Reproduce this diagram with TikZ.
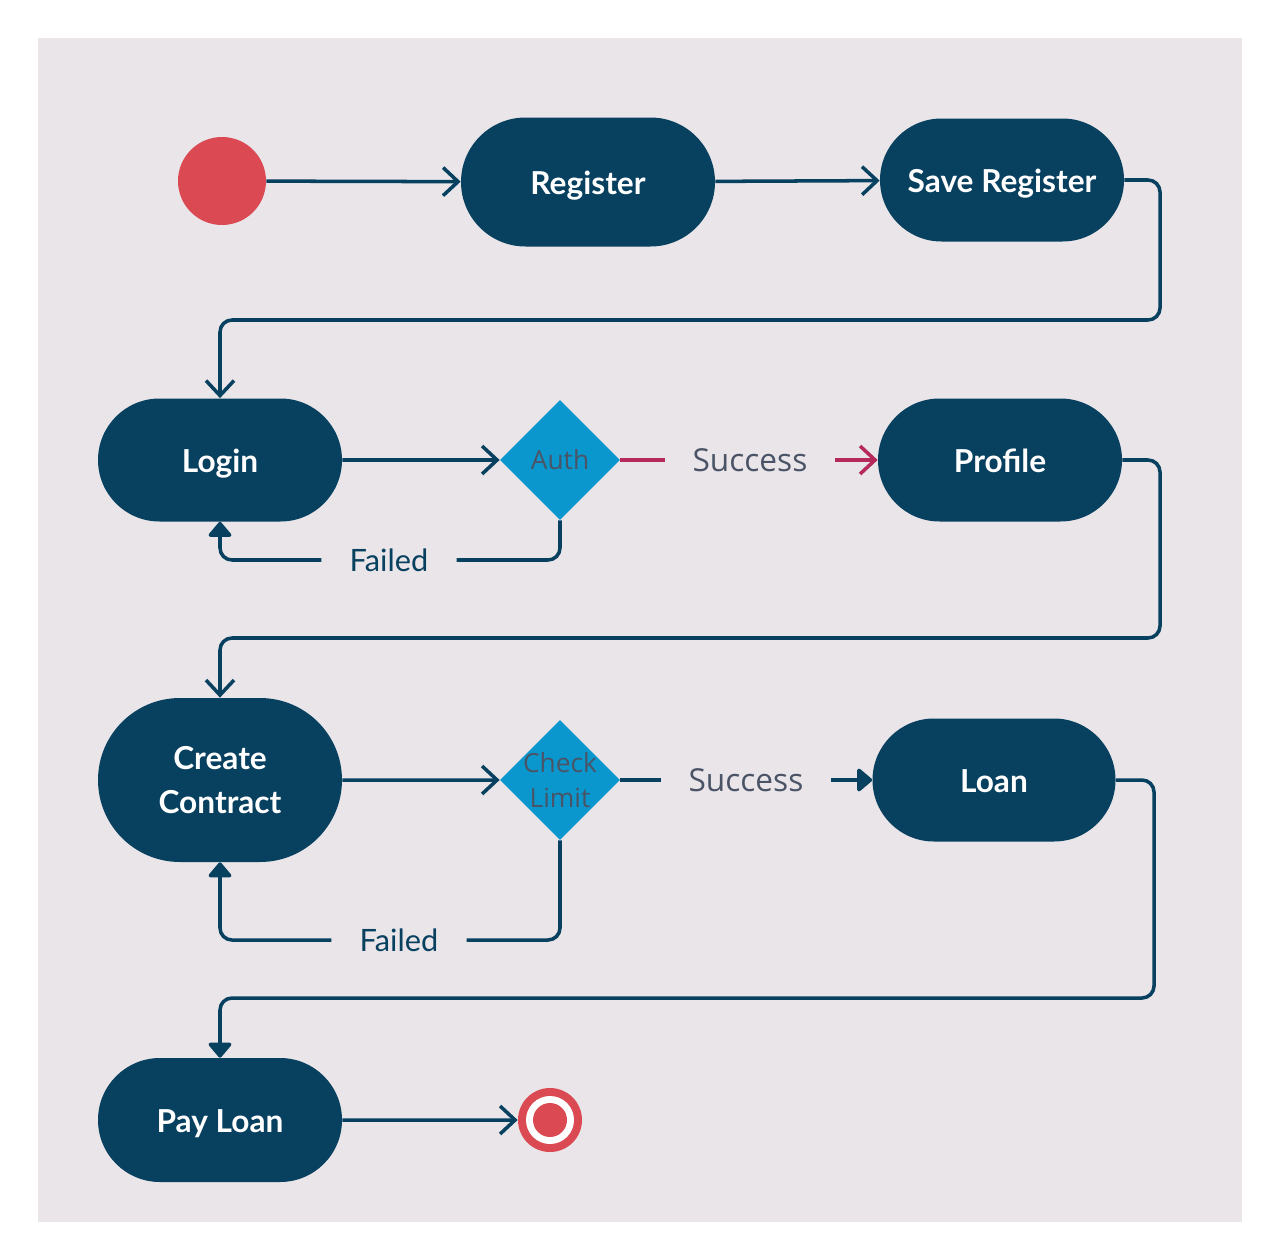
\documentclass[tikz,border=0pt]{standalone}
\usepackage{fontspec}
\setmainfont{Lato}
\newfontfamily\opensans{Open Sans}
\usetikzlibrary{arrows.meta,shapes.misc,shapes.geometric}

\definecolor{canvas}{HTML}{E9E5E9}
\definecolor{navy}{HTML}{08405F}
\definecolor{azure}{HTML}{0A97CE}
\definecolor{stateRed}{HTML}{DB4953}
\definecolor{slate}{HTML}{4A5466}
\definecolor{berry}{HTML}{B52A5A}

\begin{document}
\begin{tikzpicture}[
    activity/.style = {rounded rectangle, fill=navy, text=white, font=\bfseries\fontsize{18}{25}\selectfont, align=center, inner sep=0pt},
    oneline/.style = {text height=14pt, text depth=0pt},
    decision/.style = {diamond, fill=azure, minimum width=2.4cm, minimum height=2.4cm, inner sep=0pt},
    decisiontext/.style = {text=slate, font=\opensans\fontsize{15}{20}\selectfont, align=center, inner sep=0pt},
    guard/.style = {text=slate, font=\opensans\fontsize{18}{22}\selectfont, inner ysep=2pt, inner xsep=0.54cm},
    failtext/.style = {text=navy, font=\fontsize{17.5}{22}\selectfont, inner ysep=2pt, inner xsep=0.56cm},
    flow/.style = {navy, line width=2pt, rounded corners=0.24cm},
    openhead/.style = {-{Straight Barb[length=0.3cm, width=0.56cm, line width=2pt]}},
    solidhead/.style = {-{Triangle[round, length=0.32cm, width=0.52cm]}}
  ]
    % Canvas
    \useasboundingbox (0, 0) rectangle (25.6, -25.2);
    \fill [white] (0, 0) rectangle (25.6, -25.2);
    \fill [canvas] (0.76, -0.76) rectangle (24.84, -24.44);

    % Start and end states
    \node [circle, fill=stateRed, minimum size=1.76cm, inner sep=0pt] (start) at (4.44, -3.62) {};
    \node [circle, fill=stateRed, minimum size=1.28cm, inner sep=0pt] (finish) at (11.0, -22.4) {};
    \fill [white] (finish) circle (0.48);
    \fill [stateRed] (finish) circle (0.34);

    % Activities
    \node [activity, oneline, minimum width=5.08cm, minimum height=2.58cm] (register) at (11.76, -3.64) {Register};
    \node [activity, oneline, minimum width=4.88cm, minimum height=2.46cm] (saveReg) at (20.04, -3.6) {Save Register};
    \node [activity, oneline, minimum width=4.88cm, minimum height=2.46cm] (login) at (4.4, -9.2) {Login};
    \node [activity, oneline, minimum width=4.88cm, minimum height=2.46cm] (profile) at (20.0, -9.2) {Profile};
    \node [activity, minimum width=4.88cm, minimum height=3.28cm] (contract) at (4.4, -15.6) {Create\\Contract};
    \node [activity, oneline, minimum width=4.86cm, minimum height=2.46cm] (loan) at (19.88, -15.6) {Loan};
    \node [activity, oneline, minimum width=4.88cm, minimum height=2.48cm] (payLoan) at (4.4, -22.4) {Pay Loan};

    % Decisions
    \node [decision] (auth) at (11.2, -9.2) {};
    \node [decisiontext] (authText) at (auth) {Auth};
    \node [decision] (limit) at (11.2, -15.6) {};
    \node [decisiontext] (limitText) at (limit) {Check\\Limit};

    % Guards
    \node [guard] (authOk) at (15.0, -9.2) {Success};
    \node [failtext] (authFail) at (7.78, -11.2) {Failed};
    \node [guard] (limitOk) at (14.92, -15.6) {Success};
    \node [failtext] (limitFail) at (7.98, -18.8) {Failed};

    % Bends of the long connectors
    \coordinate (bendA) at (23.2, -6.4);
    \coordinate (bendB) at (23.2, -12.76);
    \coordinate (bendC) at (23.08, -19.96);

    % Registration
    \draw [flow, openhead] (start) -- (register);
    \draw [flow, openhead] (register) -- (saveReg);
    \draw [flow, openhead] (saveReg.east) -| (bendA) -| (login.north);

    % Authentication
    \draw [flow, openhead] (login) -- (auth);
    \draw [flow, berry] (auth.east) -- (authOk.west);
    \draw [flow, berry, openhead] (authOk.east) -- (profile.west);
    \draw [flow] (auth.south) |- (authFail.east);
    \draw [flow, solidhead] (authFail.west) -| (login.south);
    \draw [flow, openhead] (profile.east) -| (bendB) -| (contract.north);

    % Contract and loan
    \draw [flow, openhead] (contract) -- (limit);
    \draw [flow] (limit.east) -- (limitOk.west);
    \draw [flow, solidhead] (limitOk.east) -- (loan.west);
    \draw [flow] (limit.south) |- (limitFail.east);
    \draw [flow, solidhead] (limitFail.west) -| (contract.south);
    \draw [flow, solidhead] (loan.east) -| (bendC) -| (payLoan.north);
    \draw [flow, openhead] (payLoan) -- (finish);
\end{tikzpicture}
\end{document}
